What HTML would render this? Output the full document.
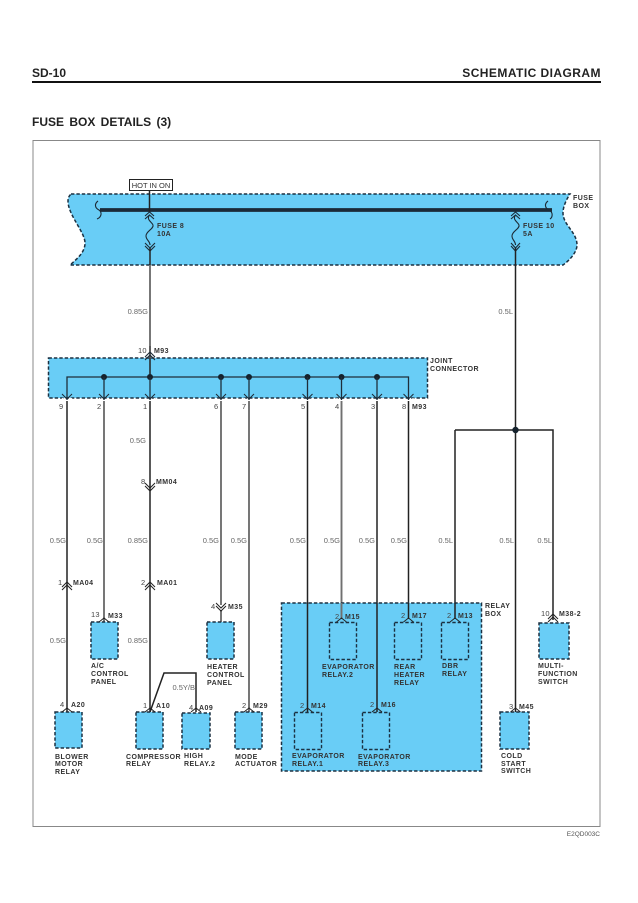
<!DOCTYPE html>
<html><head><meta charset="utf-8"><style>
html,body{margin:0;padding:0;background:#fff}
svg{display:block}
text{font-family:"Liberation Sans",sans-serif}
.h{font-weight:bold;fill:#222}
.l{font-size:7px;font-weight:bold;fill:#333;letter-spacing:.45px}
.n{font-size:7.5px;fill:#444;letter-spacing:.2px}
.w{font-size:7.5px;fill:#666;text-anchor:end}
.b{fill:#69cdf6;stroke:#1b3142;stroke-width:1.5;stroke-dasharray:3.4 2}
.wk{stroke:#222;stroke-width:1.5;fill:none}
.wg{stroke:#707070;stroke-width:1.9;fill:none}
.c{stroke:#1c2b36;stroke-width:1.1;fill:none}
</style></head><body>
<svg width="638" height="903" viewBox="0 0 638 903" xmlns="http://www.w3.org/2000/svg">
<text class="h" x="32" y="77" font-size="12">SD-10</text>
<text class="h" x="601" y="77" font-size="12" text-anchor="end" style="letter-spacing:.45px">SCHEMATIC DIAGRAM</text>
<rect x="32" y="81" width="569" height="2" fill="#111"/>
<text class="h" x="32" y="126" font-size="12" style="word-spacing:2px">FUSE BOX DETAILS (3)</text>
<rect x="33" y="140.500" width="567" height="686" fill="#fff" stroke="#888" stroke-width="1"/>
<text x="600" y="836" font-size="6.500" fill="#555" text-anchor="end">E2QD003C</text>

<!-- fuse box -->
<path class="b" d="M71 194H570C566 200 563 207 563 213C563 225 577 232 577 245C577 252 570 260 563 265H70C78 258 85 252 85 243C85 232 68 215 68 201C68 198 69 196 71 194Z"/>
<rect x="129.500" y="179.500" width="43" height="11" fill="#fff" stroke="#222"/>
<text x="151" y="188" font-size="7.500" fill="#333" text-anchor="middle">HOT IN ON</text>
<path stroke="#1a2a38" stroke-width="3.800" d="M100 210H552" fill="none"/>
<path class="c" d="M98 201C94 204 95 208 99 210C102 212 102 217 97 219"/>
<path class="c" d="M548 201C544 204 545 208 549 210C553 212 553 217 550 219"/>
<path class="wk" d="M149.500 190V212"/>
<path class="c" d="M145 216L149.500 212L154 216M145 219L149.500 215L154 219"/>
<path class="c" d="M149.500 215C146 220 152 222 153 225C154 229 146 231 146 236C146 240 150 241 150 245"/>
<path class="c" d="M145 243L150 248L155 243M145 246L150 251L155 246"/>
<path class="wk" d="M150 248V265"/>
<path class="wg" d="M150 265V346"/>
<path class="c" d="M511 216L515.500 212L520 216M511 219L515.500 215L520 219"/>
<path class="c" d="M515.500 215C512 220 518 222 519 225C520 229 512 231 512 236C512 240 515.500 241 515.500 245"/>
<path class="c" d="M511 243L515.500 248L520 243M511 246L515.500 251L520 246"/>
<path class="wk" d="M515.500 248V430"/>
<text class="l" x="157" y="228">FUSE 8</text><text class="l" x="157" y="236">10A</text>
<text class="l" x="523" y="228">FUSE 10</text><text class="l" x="523" y="236">5A</text>
<text class="l" x="573" y="200">FUSE</text><text class="l" x="573" y="208">BOX</text>
<text class="w" x="148" y="314">0.85G</text>
<text class="w" x="513" y="314">0.5L</text>

<!-- joint connector -->
<path class="b" d="M48.500 358H427.500V398H48.500Z"/>
<path class="wk" d="M150 346V377"/>
<path class="c" d="M145 357L150 352L155 357M145 360L150 355L155 360" stroke="#fff"/>
<path stroke="#1e2e3a" stroke-width="1.300" fill="none" d="M67 400V377H408.500V400"/>
<g fill="#15222d"><circle cx="104" cy="377" r="3"/><circle cx="150" cy="377" r="3"/><circle cx="221" cy="377" r="3"/><circle cx="249" cy="377" r="3"/><circle cx="307.500" cy="377" r="3"/><circle cx="341.500" cy="377" r="3"/><circle cx="377" cy="377" r="3"/></g>
<path stroke="#1e2e3a" stroke-width="1.300" fill="none" d="M104 377V400M150 377V400M221 377V400M249 377V400M307.500 377V400M341.500 377V400M377 377V400"/>
<g fill="none" stroke="#1c2b36" stroke-width="1">
<path d="M62 394L67 399L72 394M99 394L104 399L109 394M145 394L150 399L155 394M216 394L221 399L226 394M244 394L249 399L254 394M302.500 394L307.500 399L312.500 394M336.500 394L341.500 399L346.500 394M372 394L377 399L382 394M403.500 394L408.500 399L413.500 394"/>
<path stroke="#fff" d="M62 398L67 403L72 398M99 398L104 403L109 398M145 398L150 403L155 398M216 398L221 403L226 398M244 398L249 403L254 398M302.500 398L307.500 403L312.500 398M336.500 398L341.500 403L346.500 398M372 398L377 403L382 398M403.500 398L408.500 403L413.500 398"/>
</g>
<text class="n" x="138" y="353">10</text><text class="l" x="154" y="353">M93</text>
<text class="l" x="430" y="363">JOINT</text><text class="l" x="430" y="371">CONNECTOR</text>
<text class="n" x="59" y="409">9</text><text class="n" x="97" y="409">2</text><text class="n" x="143" y="409">1</text><text class="n" x="214" y="409">6</text><text class="n" x="242" y="409">7</text><text class="n" x="301" y="409">5</text><text class="n" x="335" y="409">4</text><text class="n" x="371" y="409">3</text><text class="n" x="402" y="409">8</text><text class="l" x="412" y="409">M93</text>

<!-- long wires -->
<path class="wk" d="M67 401V712M150 401V712M408.500 401V618M307.500 401V712M377 401V712"/>
<path class="wg" d="M104 401V622M221 401V605M249 401V712M341.500 401V618"/>
<path class="wg" d="M221 610V622" />
<path class="wk" d="M455 430H553V620M455 430V618M515.500 430V712"/>
<circle cx="515.500" cy="430" r="3.200" fill="#15222d"/>
<path class="wk" d="M150 712L164 673H196V712"/>
<path fill="none" stroke="#222" d="M145 483L150 488L155 483M145 486L150 491L155 486"/>
<text class="w" x="146" y="443">0.5G</text>
<text class="n" x="141" y="484">8</text><text class="l" x="156" y="484">MM04</text>

<text class="w" x="66" y="543">0.5G</text><text class="w" x="103" y="543">0.5G</text><text class="w" x="148" y="543">0.85G</text><text class="w" x="219" y="543">0.5G</text><text class="w" x="247" y="543">0.5G</text><text class="w" x="306" y="543">0.5G</text><text class="w" x="340" y="543">0.5G</text><text class="w" x="375" y="543">0.5G</text><text class="w" x="407" y="543">0.5G</text><text class="w" x="453" y="543">0.5L</text><text class="w" x="514" y="543">0.5L</text><text class="w" x="552" y="543">0.5L</text>

<!-- relay box -->
<path class="b" d="M281.500 603H481.500V771H281.500Z"/>
<path class="wk" d="M307.500 603V712M377 603V712M408.500 603V618M455 603V618"/>
<path class="wg" d="M341.500 603V618"/>
<g fill="none" stroke="#1b3142" stroke-width="1.400" stroke-dasharray="3.400 2">
<rect x="329.500" y="622.500" width="27" height="37"/><rect x="394.500" y="622.500" width="27" height="37"/><rect x="441.500" y="622.500" width="27" height="37"/><rect x="294.500" y="712.500" width="27" height="37"/><rect x="362.500" y="712.500" width="27" height="37"/>
</g>
<rect class="b" x="55" y="712" width="27" height="36"/>
<rect class="b" x="91" y="622" width="27" height="37"/>
<rect class="b" x="136" y="712" width="27" height="37"/>
<rect class="b" x="182" y="713" width="28" height="36"/>
<rect class="b" x="235" y="712" width="27" height="37"/>
<rect class="b" x="207" y="622" width="27" height="37"/>
<rect class="b" x="539" y="623" width="30" height="36"/>
<rect class="b" x="500" y="712" width="29" height="37"/>

<path fill="none" stroke="#222" stroke-width="1" d="M62 712L67 708L72 712M99 622L104 618L109 622M145 712L150 708L155 712M191 712L196 708L201 712M244 712L249 708L254 712M336.500 622L341.500 618L346.500 622M403.500 622L408.500 618L413.500 622M450 622L455 618L460 622M302.500 712L307.500 708L312.500 712M372 712L377 708L382 712M510.500 712L515.500 708L520.500 712"/>
<path fill="none" stroke="#222" stroke-width="1" d="M62 587L67 582L72 587M62 590L67 585L72 590M145 587L150 582L155 587M145 590L150 585L155 590M216 603L221 608L226 603M216 606L221 611L226 606M548 622L553 617L558 622M548 619L553 614L558 619"/>

<text class="n" x="58" y="585">1</text><text class="l" x="73" y="585">MA04</text>
<text class="n" x="141" y="585">2</text><text class="l" x="157" y="585">MA01</text>
<text class="w" x="66" y="643">0.5G</text><text class="w" x="148" y="643">0.85G</text>
<text class="w" x="195" y="690">0.5Y/B</text>
<text class="n" x="91" y="617">13</text><text class="l" x="108" y="618">M33</text>
<text class="n" x="211" y="609">4</text><text class="l" x="228" y="609">M35</text>
<text class="n" x="60" y="707">4</text><text class="l" x="71" y="707">A20</text>
<text class="n" x="143" y="708">1</text><text class="l" x="156" y="708">A10</text>
<text class="n" x="189" y="710">4</text><text class="l" x="199" y="710">A09</text>
<text class="n" x="242" y="708">2</text><text class="l" x="253" y="708">M29</text>
<text class="n" x="335" y="619">2</text><text class="l" x="345" y="619">M15</text>
<text class="n" x="401" y="618">2</text><text class="l" x="412" y="618">M17</text>
<text class="n" x="447" y="618">2</text><text class="l" x="458" y="618">M13</text>
<text class="n" x="300" y="708">2</text><text class="l" x="311" y="708">M14</text>
<text class="n" x="370" y="707">2</text><text class="l" x="381" y="707">M16</text>
<text class="n" x="509" y="709">3</text><text class="l" x="519" y="709">M45</text>
<text class="n" x="541" y="616">10</text><text class="l" x="559" y="616">M38-2</text>
<text class="l" x="485" y="608">RELAY</text><text class="l" x="485" y="616">BOX</text>

<text class="l" x="91" y="668">A/C</text><text class="l" x="91" y="676">CONTROL</text><text class="l" x="91" y="684">PANEL</text>
<text class="l" x="207" y="669">HEATER</text><text class="l" x="207" y="677">CONTROL</text><text class="l" x="207" y="685">PANEL</text>
<text class="l" x="55" y="759">BLOWER</text><text class="l" x="55" y="766">MOTOR</text><text class="l" x="55" y="774">RELAY</text>
<text class="l" x="126" y="759">COMPRESSOR</text><text class="l" x="126" y="766">RELAY</text>
<text class="l" x="184" y="758">HIGH</text><text class="l" x="184" y="766">RELAY.2</text>
<text class="l" x="235" y="759">MODE</text><text class="l" x="235" y="766">ACTUATOR</text>
<text class="l" x="322" y="669">EVAPORATOR</text><text class="l" x="322" y="677">RELAY.2</text>
<text class="l" x="394" y="669">REAR</text><text class="l" x="394" y="677">HEATER</text><text class="l" x="394" y="685">RELAY</text>
<text class="l" x="442" y="668">DBR</text><text class="l" x="442" y="676">RELAY</text>
<text class="l" x="292" y="758">EVAPORATOR</text><text class="l" x="292" y="766">RELAY.1</text>
<text class="l" x="358" y="759">EVAPORATOR</text><text class="l" x="358" y="766">RELAY.3</text>
<text class="l" x="501" y="758">COLD</text><text class="l" x="501" y="766">START</text><text class="l" x="501" y="773">SWITCH</text>
<text class="l" x="538" y="668">MULTI-</text><text class="l" x="538" y="676">FUNCTION</text><text class="l" x="538" y="684">SWITCH</text>
</svg>
</body></html>
